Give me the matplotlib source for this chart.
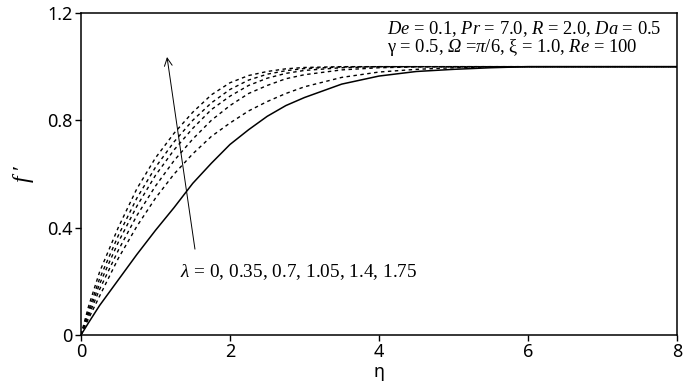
import matplotlib
matplotlib.use('Agg')
import matplotlib.pyplot as plt

# ── Data ──────────────────────────────────────────────
eta = [0, 0.1, 0.25, 0.5, 0.75, 1.0, 1.25, 1.5, 1.75, 2.0, 2.25, 2.5, 2.75,
       3.0, 3.5, 4.0, 4.5, 5.0, 5.5, 6.0, 7.0, 8.0]

lambdas = [0, 0.35, 0.7, 1.05, 1.4, 1.75]

fp_l000 = [0, 0.045, 0.11, 0.205, 0.30, 0.39, 0.475, 0.565, 0.64, 0.71, 0.765,
           0.815, 0.855, 0.885, 0.935, 0.965, 0.982, 0.99, 0.996, 1.0, 1.0, 1.0]
fp_l035 = [0, 0.06, 0.145, 0.285, 0.405, 0.51, 0.60, 0.675, 0.74, 0.79, 0.835,
           0.87, 0.90, 0.925, 0.96, 0.98, 0.99, 0.996, 0.999, 1.0, 1.0, 1.0]
fp_l070 = [0, 0.07, 0.17, 0.315, 0.445, 0.555, 0.65, 0.73, 0.80, 0.855, 0.90,
           0.93, 0.955, 0.97, 0.988, 0.996, 0.999, 1.0, 1.0, 1.0, 1.0, 1.0]
fp_l105 = [0, 0.08, 0.19, 0.345, 0.48, 0.595, 0.69, 0.77, 0.84, 0.89, 0.93,
           0.957, 0.975, 0.986, 0.996, 1.0, 1.0, 1.0, 1.0, 1.0, 1.0, 1.0]
fp_l140 = [0, 0.09, 0.21, 0.37, 0.51, 0.625, 0.72, 0.80, 0.865, 0.915, 0.95,
           0.972, 0.985, 0.993, 0.999, 1.0, 1.0, 1.0, 1.0, 1.0, 1.0, 1.0]
fp_l175 = [0, 0.105, 0.235, 0.40, 0.545, 0.66, 0.752, 0.83, 0.895, 0.94, 0.967,
           0.982, 0.992, 0.997, 1.0, 1.0, 1.0, 1.0, 1.0, 1.0, 1.0, 1.0]

x_ticks = [0, 2, 4, 6, 8]
y_ticks = [0, 0.4, 0.8, 1.2]
y_ticklabels = ['0', '0.4', '0.8', '1.2']

# ── Style ─────────────────────────────────────────────
plt.rcParams['mathtext.fontset'] = 'custom'
plt.rcParams['mathtext.rm'] = 'Liberation Serif'
plt.rcParams['mathtext.it'] = 'Liberation Serif:italic'
plt.rcParams['mathtext.cal'] = 'Liberation Serif:italic'
SERIF = 'Liberation Serif'
SANS = 'Noto Sans'

fig = plt.figure(figsize=(6.85, 3.88), dpi=100)
ax = fig.add_axes([0.1182, 0.1366, 0.8701, 0.8299])

ax.plot(eta, fp_l000, color='black', lw=1.1)
for ys in [fp_l035, fp_l070, fp_l105, fp_l140, fp_l175]:
    ax.plot(eta, ys, color='black', lw=1.0, ls=(0, (2.5, 2.5)))

ax.set_xlim(0, 8)
ax.set_ylim(0, 1.2)
ax.set_xticks(x_ticks)
ax.set_yticks(y_ticks)
ax.set_yticklabels(y_ticklabels)
ax.tick_params(direction='out', length=4, width=1.0, labelsize=13, pad=2)
for lab in ax.get_xticklabels() + ax.get_yticklabels():
    lab.set_family(SANS)
for sp in ax.spines.values():
    sp.set_linewidth(1.1)

ax.set_xlabel('η', family=SANS, fontsize=13, labelpad=1)
ax.set_ylabel("$f$ ′", family=SERIF, fontsize=17, labelpad=8)

# parameter text
ax.text(4.11, 1.122, r"$De$ = 0.1, $Pr$ = 7.0, $R$ = 2.0, $Da$ = 0.5",
        family=SERIF, fontsize=13.3, ha='left', va='baseline')
ax.text(4.11, 1.055, r"γ = 0.5, $\mathcal{Ω}$ =$π$/6, ξ = 1.0, $Re$ = 100",
        family=SERIF, fontsize=13.3, ha='left', va='baseline')

# arrow and lambda label
ax.annotate('', xy=(1.155, 1.036), xytext=(1.53, 0.32),
            arrowprops=dict(arrowstyle='->', lw=0.7, color='black',
                            mutation_scale=14, shrinkA=0, shrinkB=0))
lam_label = r"$λ$ = " + ", ".join(str(v) for v in lambdas)
ax.text(1.33, 0.235, lam_label, family=SERIF, fontsize=13.9,
        ha='left', va='center')

plt.savefig('out.png', dpi=100)
plt.close()
